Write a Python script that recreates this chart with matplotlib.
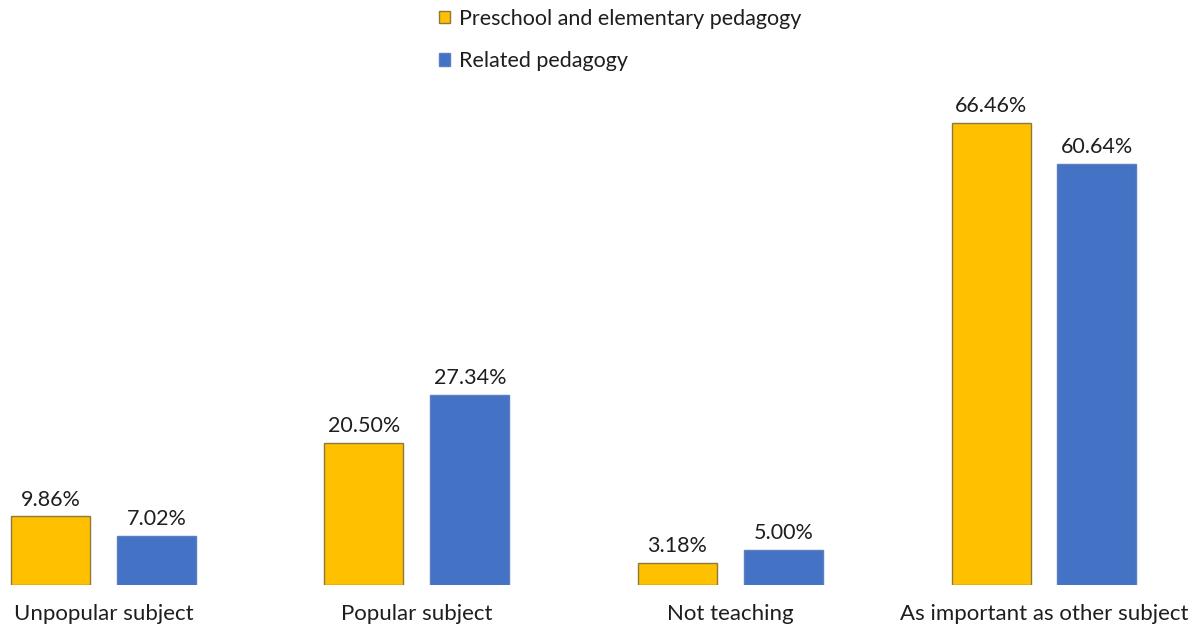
import numpy as np
import matplotlib
matplotlib.use("Agg")
import matplotlib.pyplot as plt

plt.rcParams['font.family'] = ['Lato', 'DejaVu Sans']

categories = ['Unpopular subject', 'Popular subject', 'Not teaching',
              'As important as other subject']
preschool = [9.86, 20.50, 3.18, 66.46]
related = [7.02, 27.34, 5.00, 60.64]
series_names = ['Preschool and elementary pedagogy', 'Related pedagogy']

txt = '#1e1e1e'

fig = plt.figure(figsize=(11.97, 6.32), dpi=100)
ax = fig.add_axes([0, 47 / 632, 1, 585 / 632])

x = np.arange(len(categories))
bar_width = 0.252
offset = 0.169

b1 = ax.bar(x - offset, preschool, bar_width, color='#FFC000',
            edgecolor='#8C7A3C', linewidth=1.0, label=series_names[0])
b2 = ax.bar(x + offset, related, bar_width, color='#4472C4',
            edgecolor='#5B7FC0', linewidth=1.0, label=series_names[1])

ax.bar_label(b1, labels=['%.2f%%' % v for v in preschool], padding=5,
             fontsize=15.5, color=txt)
ax.bar_label(b2, labels=['%.2f%%' % v for v in related], padding=5,
             fontsize=15.5, color=txt)

ax.set_xlim(-0.330, 3.488)
ax.set_ylim(0, 84.17)
ax.set_xticks(x)
ax.set_xticklabels(categories, fontsize=16, color=txt)
ax.tick_params(axis='x', length=0, pad=14)
ax.set_yticks([])
for s in ax.spines.values():
    s.set_visible(False)

# legend sits above the bars, a little left of centre
fig.legend(loc='upper left', bbox_to_anchor=(430 / 1197, 1.0), frameon=False,
           fontsize=15.5, handlelength=0.55, handleheight=0.55, handletextpad=0.4,
           labelspacing=1.05, borderaxespad=0.0, labelcolor=txt)

fig.savefig('out.png', dpi=100)
